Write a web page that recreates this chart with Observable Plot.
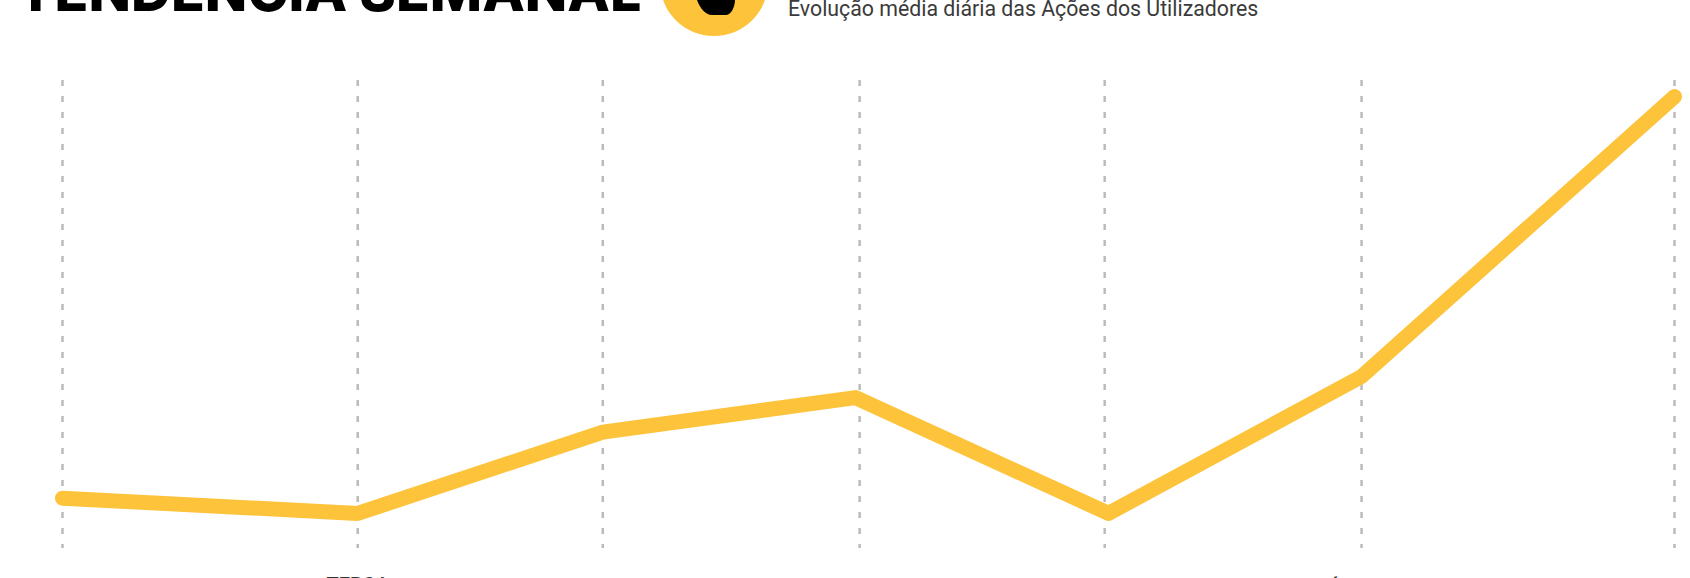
<!DOCTYPE html>
<html><head><meta charset="utf-8">
<script src="https://cdn.jsdelivr.net/npm/d3@7"></script>
<script src="https://cdn.jsdelivr.net/npm/@observablehq/plot@0.6"></script>
<style>
html,body{margin:0;padding:0;background:#fff;overflow:hidden;width:1690px;height:578px}
#wrap{position:relative;width:1690px;height:578px;overflow:hidden}
#chart{position:absolute;left:0;top:0}
#chart svg{display:block}
#title{position:absolute;left:17px;top:-37px;font:800 55.5px/1 Inter,"Noto Sans",sans-serif;color:#000;white-space:nowrap}
#sub{position:absolute;left:788px;top:-3px;font:400 21.3px/1.1 Roboto,"Noto Sans",sans-serif;color:#3a3a3a;white-space:nowrap}
#logo{position:absolute;left:660px;top:-72px;width:108px;height:108px;border-radius:50%;background:#fdc33b}
#blob{position:absolute;left:690px;top:-10px;width:50px;height:30px;background:#000;clip-path:path("M7,10 C10,18 15,25 22,25 L36,25 C42,25 45,15 45,10 L45,0 L7,0 Z")}
</style></head><body>
<div id="wrap">
<div id="chart"></div>
<div id="title">TENDÊNCIA SEMANAL</div>
<div id="logo"></div><div id="blob"></div>
<div id="sub">Evolução média diária das Ações dos Utilizadores</div>
</div>
<script>
const days = ["SEGUNDA","TERÇA","QUARTA","QUINTA","SEXTA","SÁBADO","DOMINGO"];
const gridPositions = [0, 1, 1.83, 2.7, 3.53, 4.4, 5.46];
const pointPositions = [0, 1, 1.83, 2.686, 3.543, 4.4, 5.46];
const values = [1.72, 1.2, 3.98, 5.16, 1.2, 5.88, 15.45];
const rows = days.map((d,i)=>({day:d,x:pointPositions[i],v:values[i]}));
const ticks = days.map((d,i)=>({day:d,x:gridPositions[i]}));
const labelStyle = {x:"x",text:"day",frameAnchor:"bottom",fontSize:20,fill:"#333",fontFamily:"Roboto",fontWeight:500};
const plot = Plot.plot({
  width:1690,height:620,
  marginLeft:62,marginRight:16,marginTop:80,marginBottom:72,
  x:{domain:[0,5.46],axis:null},
  y:{domain:[0,16],axis:null},
  style:{background:"transparent",overflow:"visible"},
  marks:[
    Plot.ruleX(ticks,{x:"x",stroke:"#bbb",strokeWidth:2.5,strokeDasharray:"6 10"}),
    Plot.line(rows,{x:"x",y:"v",stroke:"#fdc33b",strokeWidth:15,strokeLinecap:"round",strokeLinejoin:"round"}),
    Plot.text(ticks.filter(t=>t.day==="TERÇA"),{...labelStyle,dy:43.5}),
    Plot.text(ticks.filter(t=>t.day==="SÁBADO"),{...labelStyle,dx:-7,dy:46}),
    Plot.text(ticks.filter(t=>t.day!=="TERÇA"&&t.day!=="SÁBADO"),{...labelStyle,dy:50})
  ]
});
document.getElementById("chart").append(plot);
</script>
</body></html>
